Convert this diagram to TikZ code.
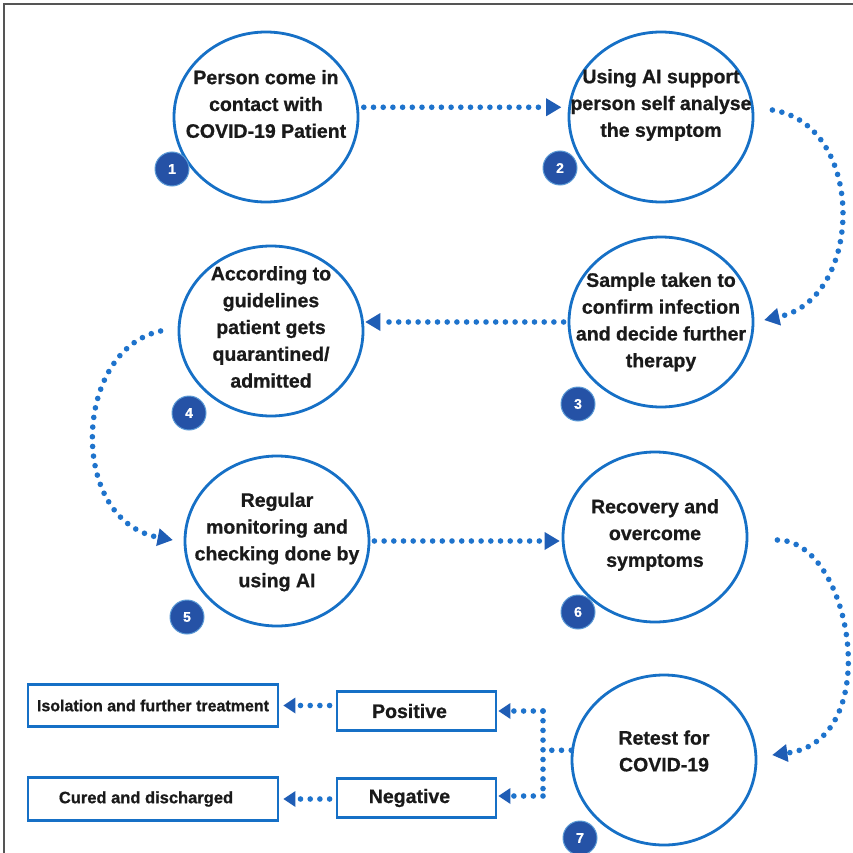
\documentclass[tikz,border=0pt]{standalone}
\usepackage{fontspec}
\setmainfont{Liberation Sans}[BoldFeatures={FakeBold=0.8}]
\usetikzlibrary{shapes.geometric,arrows.meta,calc}
\definecolor{ringc}{HTML}{1670C6}
\definecolor{dotc}{HTML}{1E73CC}
\definecolor{tipc}{HTML}{1F5DB5}
\definecolor{badgec}{HTML}{2552A6}
\definecolor{ink}{HTML}{1A1A1A}
\definecolor{framec}{HTML}{555555}
\begin{document}
\begin{tikzpicture}[x=1pt,y=-1pt,
  ringnode/.style={ellipse, draw=ringc, line width=2.8pt, minimum width=184pt, minimum height=170pt, inner sep=0pt},
  lbl/.style={align=center, font=\bfseries\fontsize{19.5}{26.8}\selectfont, text=ink, inner sep=0pt},
  badgenode/.style={circle, fill=badgec, draw=ringc!70, line width=1pt, minimum size=34pt, inner sep=0pt, text=white, font=\bfseries\fontsize{14}{14}\selectfont},
  flowline/.style={draw=dotc, line width=5.6pt, line cap=round, dash pattern=on 0pt off 9.7pt},
  flow/.style={flowline, -{Triangle[length=15pt,width=18pt,line width=0pt,fill=tipc,color=tipc]}},
  flowsmall/.style={flowline, -{Triangle[length=12pt,width=16pt,line width=0pt,fill=tipc,color=tipc]}},
  boxnode/.style={draw=ringc, line width=2.8pt, rectangle, inner sep=0pt, text=ink, font=\bfseries}
]
\useasboundingbox (0,0) rectangle (853,853);
\fill[white] (0,0) rectangle (853,853);
\draw[framec, line width=1.6pt] (4,853) -- (4,4) -- (853,4);

% circles
\node[ringnode] (c1) at (266,117) {};
\node[ringnode] (c2) at (661,117) {};
\node[ringnode] (c3) at (661,322) {};
\node[ringnode] (c4) at (271,331) {};
\node[ringnode] (c5) at (277,541) {};
\node[ringnode] (c6) at (655,537) {};
\node[ringnode] (c7) at (664,760) {};

% labels
\node[lbl] (t1) at (266,104) {Person come in\\contact with\\COVID-19 Patient};
\node[lbl] (t2) at (661,105) {Using AI support\\person self analyse\\the symptom};
\node[lbl] (t3) at (661,322) {Sample taken to\\confirm infection\\and decide further\\therapy};
\node[lbl] (t4) at (271,327) {According to\\guidelines\\patient gets\\quarantined/\\admitted};
\node[lbl] (t5) at (277,542) {Regular\\monitoring and\\checking done by\\using AI};
\node[lbl] (t6) at (655,535) {Recovery and\\overcome\\symptoms};
\node[lbl] (t7) at (664,751) {Retest for\\COVID-19};

% badges
\node[badgenode] (b1) at (172,169) {1};
\node[badgenode] (b2) at (560,168) {2};
\node[badgenode] (b3) at (578,404) {3};
\node[badgenode] (b4) at (189,413) {4};
\node[badgenode] (b5) at (187,617) {5};
\node[badgenode] (b6) at (578,612) {6};
\node[badgenode] (b7) at (580,838) {7};

% connectors between circles
\draw[flow, shorten <=5pt, shorten >=7pt] (c1.6) -- (c2.174);
\draw[flow] ([shift={(18,-7)}]c2.east) .. controls +(94,15) and +(100,-22) .. ([shift={(10,-2)}]c3.east);
\draw[flow, shorten <=4pt, shorten >=1pt] (c3.west) -- (c3.west -| c4.east);
\draw[flow] ([shift={(-17,0)}]c4.west) .. controls +(-88,19) and +(-105,-20) .. ([shift={(-11,-1)}]c5.west);
\draw[flow, shorten <=4pt, shorten >=2pt] (c5.east) -- (c5.east -| c6.west);
\draw[flow] ([shift={(29,3)}]c6.east) .. controls +(74,0) and +(114,-15) .. ([shift={(15,-5)}]c7.east);

% result boxes
\node[boxnode, minimum width=250pt, minimum height=42pt, font=\bfseries\fontsize{16}{16}\selectfont] (iso) at (153,705.5) {Isolation and further treatment};
\node[boxnode, minimum width=159pt, minimum height=39pt, font=\bfseries\fontsize{19.5}{20}\selectfont] (pos) at (416.5,711) {Positive\hspace*{14pt}};
\node[boxnode, minimum width=250pt, minimum height=43pt, font=\bfseries\fontsize{16.5}{17}\selectfont] (cur) at (153,799) {Cured and discharged\hspace*{14pt}};
\node[boxnode, minimum width=159pt, minimum height=39pt, font=\bfseries\fontsize{19.5}{20}\selectfont] (neg) at (416.5,798) {Negative\hspace*{14pt}};

\coordinate (jt) at (543,711);
\coordinate (jb) at (543,796);
\draw[flowline] (c7.174) -- (c7.174 -| jt);
\draw[flowline] (jt) -- (jb);
\draw[flowsmall, shorten >=1pt] (jt) -- (pos.east);
\draw[flowsmall, shorten >=1pt] (jb) -- (jb -| neg.east);
\draw[flowsmall, shorten <=6pt, shorten >=4pt] (pos.west |- iso.east) -- (iso.east);
\draw[flowsmall, shorten <=6pt, shorten >=4pt] (neg.west |- cur.east) -- (cur.east);
\end{tikzpicture}
\end{document}
